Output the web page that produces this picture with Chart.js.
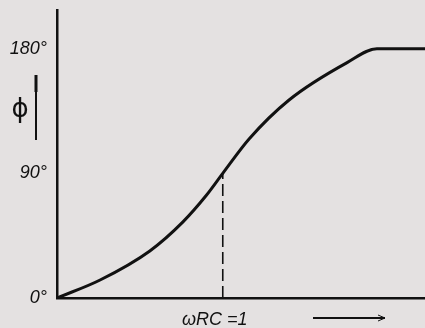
<!DOCTYPE html>
<html>
<head>
<meta charset="utf-8">
<script src="https://cdn.jsdelivr.net/npm/chart.js@4"></script>
<style>
  html, body { margin: 0; padding: 0; background: #e4e1e1; }
  #wrap { width: 425px; height: 328px; }
</style>
</head>
<body>
<div id="wrap"><canvas id="phase" width="425" height="328"></canvas></div>
<script>
// phase curve (x = omega*R*C, y = degrees)
const wrc   = [0, 0.26, 0.56, 0.76, 0.90, 1.00, 1.16, 1.40, 1.75, 1.93, 2.22];
const phase = [0, 13, 34, 55, 74, 90, 115, 143, 170, 180, 180];

// dashed marker at omega*R*C = 1
const markX = [1, 1];
const markY = [0, 90];

const yTicks = [0, 90, 180];
const yTickLabels = ["0°", "90°", "180°"];

const ink = "#111";

// φ with its arrow, and the x caption with its arrow
const extras = {
  id: "extras",
  afterDraw(chart) {
    const c = chart.ctx;
    c.save();
    c.fillStyle = ink;
    c.strokeStyle = ink;

    c.font = "26px 'DejaVu Sans', sans-serif";
    c.textAlign = "center";
    c.textBaseline = "middle";
    c.fillText("ϕ", 20, 110);

    c.lineWidth = 2;
    c.beginPath();
    c.moveTo(36, 140);
    c.lineTo(36, 76);
    c.stroke();
    c.lineWidth = 3;
    c.beginPath();
    c.moveTo(36, 92);
    c.lineTo(36, 75);
    c.stroke();

    c.font = "italic 18px 'Liberation Sans', sans-serif";
    c.textAlign = "left";
    c.textBaseline = "alphabetic";
    c.fillText("ωRC =1", 182, 325);

    c.lineWidth = 2;
    c.beginPath();
    c.moveTo(313, 318);
    c.lineTo(385, 318);
    c.stroke();
    c.lineWidth = 1;
    c.beginPath();
    c.moveTo(378, 315);
    c.lineTo(385, 318);
    c.lineTo(378, 321);
    c.stroke();
    c.restore();
  }
};

new Chart(document.getElementById("phase"), {
  type: "line",
  data: {
    datasets: [
      {
        data: wrc.map((x, i) => ({ x, y: phase[i] })),
        borderColor: ink,
        borderWidth: 3,
        pointRadius: 0,
        cubicInterpolationMode: "monotone",
        fill: false
      },
      {
        data: markX.map((x, i) => ({ x, y: markY[i] })),
        borderColor: ink,
        borderWidth: 1.6,
        borderDash: [12, 5],
        pointRadius: 0,
        fill: false
      }
    ]
  },
  options: {
    responsive: false,
    animation: false,
    layout: { padding: { top: 10, left: 0, right: 0, bottom: 0 } },
    plugins: { legend: { display: false }, tooltip: { enabled: false } },
    scales: {
      x: {
        type: "linear",
        min: 0,
        max: 2.22,
        grid: { display: false, drawTicks: false },
        border: { display: true, color: ink, width: 2.5 },
        ticks: { display: false },
        afterFit(s) { s.height = 30; s.paddingLeft = 0; s.paddingRight = 0; }
      },
      y: {
        type: "linear",
        min: 0,
        max: 208,
        grid: { display: false, drawTicks: false },
        border: { display: true, color: ink, width: 2.5 },
        afterBuildTicks(s) { s.ticks = yTicks.map(v => ({ value: v })); },
        ticks: {
          padding: 10,
          color: ink,
          font: { family: "'Liberation Sans', sans-serif", size: 18, style: "italic" },
          callback: (v) => yTickLabels[yTicks.indexOf(v)]
        },
        afterFit(s) { s.width = 57; s.paddingTop = 0; s.paddingBottom = 0; }
      }
    }
  },
  plugins: [extras]
});
</script>
</body>
</html>
